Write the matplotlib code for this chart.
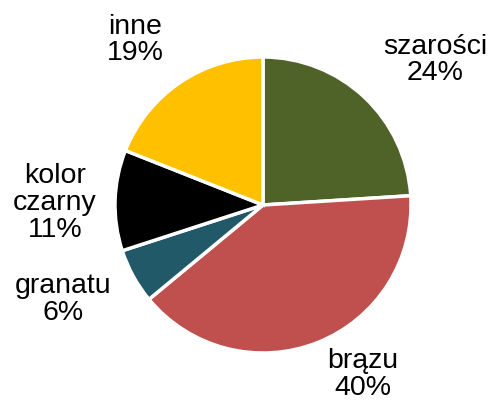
import matplotlib.pyplot as plt

labels = ['szarości', 'brązu', 'granatu', 'kolor\nczarny', 'inne']
values = [24, 40, 6, 11, 19]
colors = ['#4F6228', '#C0504D', '#215968', '#000000', '#FFC000']

# label centres in pixel coords (x from left, y from top)
label_pos = [(435, 60), (363, 375), (63, 300), (55, 203), (135, 40)]

W, H = 494, 402
fig = plt.figure(figsize=(W / 100, H / 100), dpi=100)
ax = fig.add_axes([0, 0, 1, 1])

ax.pie(values, colors=colors, startangle=90, counterclock=False,
       center=(263, H - 206), radius=148,
       wedgeprops=dict(edgecolor='white', linewidth=2.5))

# pie() resets limits, so set them afterwards
ax.set_xlim(0, W)
ax.set_ylim(0, H)
ax.set_aspect('equal')
ax.axis('off')

for lab, v, (x, y) in zip(labels, values, label_pos):
    ax.text(x, H - y, f'{lab}\n{v}%', ha='center', va='center',
            multialignment='center', fontsize=20.5,
            family='Liberation Sans', linespacing=1.05)

fig.savefig('out.png', dpi=100)
